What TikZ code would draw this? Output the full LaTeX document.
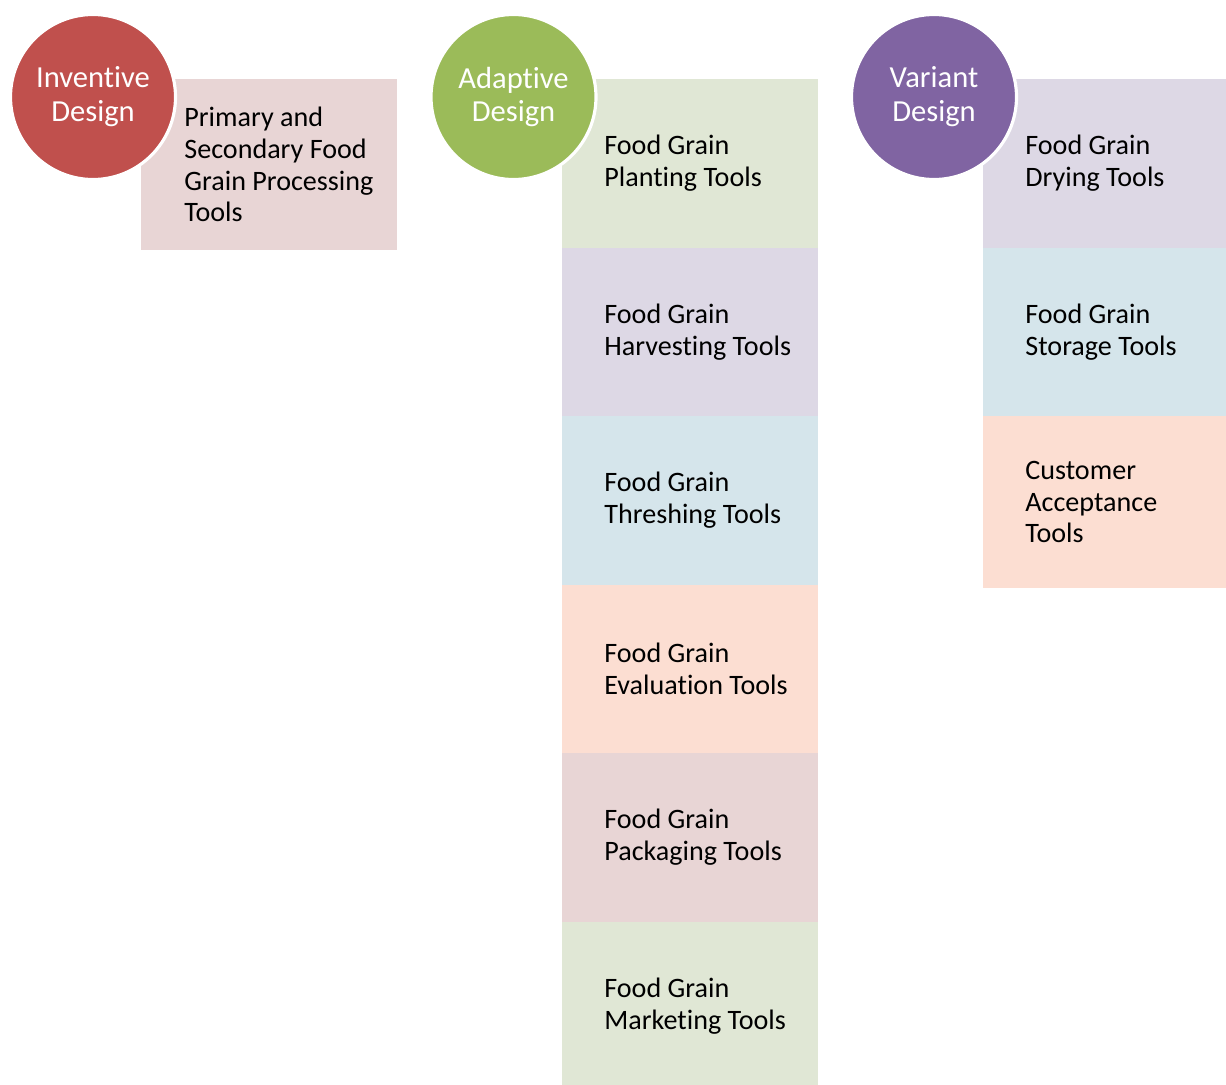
\documentclass[tikz,border=0pt]{standalone}
\usepackage{fontspec}
\setmainfont[Ligatures=NoCommon]{Carlito}
\usepackage{tikz}
\usetikzlibrary{positioning}
\definecolor{inventRed}{HTML}{C0504D}
\definecolor{adaptGreen}{HTML}{9BBB59}
\definecolor{variantPurple}{HTML}{8064A2}
\definecolor{tintRed}{RGB}{232,213,213}
\definecolor{tintGreen}{RGB}{224,231,213}
\definecolor{tintPurple}{RGB}{221,216,229}
\definecolor{tintAqua}{RGB}{213,229,235}
\definecolor{tintOrange}{RGB}{252,222,210}
\tikzset{
  box/.style={rectangle, minimum width=5.12cm, minimum height=3.37cm, inner sep=0pt, outer sep=0pt},
  item/.style={inner sep=0pt, align=left, text=black, font=\fontsize{16}{18.1}\selectfont},
  design/.style={circle, minimum size=3.3cm, inner sep=0pt, draw=white, line width=1.8pt, text=white, align=center, font=\fontsize{17.4}{19.3}\selectfont}
}

\begin{document}
\begin{tikzpicture}[x=1cm,y=1cm]
        \useasboundingbox (0,0) rectangle (24.52,-21.68);
        \clip (0,0) rectangle (24.52,-21.68);
        % inventive
        \node[box, fill=tintRed, minimum height=3.42cm, anchor=north west] (proc) at (2.82,-1.58) {};
        \node[item, right=0.86cm of proc.west] (procT) {Primary and\\Secondary Food\\Grain Processing\\Tools};
        \node[design, fill=inventRed] (invent) at (1.86,-1.94) {Inventive\\Design};
        % adaptive
        \node[box, fill=tintGreen, anchor=north west] (plant) at (11.24,-1.58) {};
        \node[box, fill=tintPurple, below=0pt of plant] (harv) {};
        \node[box, fill=tintAqua, below=0pt of harv] (thresh) {};
        \node[box, fill=tintOrange, below=0pt of thresh] (eval) {};
        \node[box, fill=tintRed, below=0pt of eval] (pack) {};
        \node[box, fill=tintGreen, below=0pt of pack] (market) {};
        \node[item, right=0.84cm of plant.west] (plantT) {Food Grain\\Planting Tools};
        \node[item, right=0.84cm of harv.west] (harvT) {Food Grain\\Harvesting Tools};
        \node[item, right=0.84cm of thresh.west] (threshT) {Food Grain\\Threshing Tools};
        \node[item, right=0.84cm of eval.west] (evalT) {Food Grain\\Evaluation Tools};
        \node[item, right=0.84cm of pack.west] (packT) {Food Grain\\Packaging Tools};
        \node[item, right=0.84cm of market.west] (marketT) {Food Grain\\Marketing Tools};
        \node[design, fill=adaptGreen] (adapt) at (10.27,-1.94) {Adaptive\\Design};
        % variant
        \node[box, fill=tintPurple, anchor=north west] (dry) at (19.66,-1.58) {};
        \node[box, fill=tintAqua, below=0pt of dry] (store) {};
        \node[box, fill=tintOrange, minimum height=3.44cm, below=0pt of store] (accept) {};
        \node[item, right=0.84cm of dry.west] (dryT) {Food Grain\\Drying Tools};
        \node[item, right=0.84cm of store.west] (storeT) {Food Grain\\Storage Tools};
        \node[item, right=0.84cm of accept.west] (acceptT) {Customer\\Acceptance\\Tools};
        \node[design, fill=variantPurple] (variant) at (18.68,-1.94) {Variant\\Design};
\end{tikzpicture}
\end{document}
